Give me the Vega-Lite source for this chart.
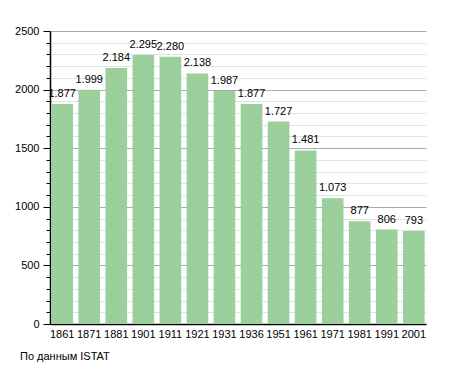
{
  "$schema": "https://vega.github.io/schema/vega-lite/v6.json",
  "width": 376,
  "height": 293,
  "autosize": "none",
  "padding": {"left": 50, "top": 31, "right": 29, "bottom": 49},
  "background": "white",
  "config": {
    "font": "Liberation Sans",
    "view": {"stroke": null},
    "locale": {"number": {"decimal": ",", "thousands": ".", "grouping": [3], "currency": ["", ""]}}
  },
  "title": {
    "text": "По данным  ISTAT",
    "orient": "bottom",
    "anchor": "start",
    "frame": "group",
    "fontSize": 11,
    "fontWeight": "normal",
    "color": "black",
    "dx": -30,
    "offset": 12
  },
  "data": {
    "values": [
      {"year": "1861", "pop": 1877},
      {"year": "1871", "pop": 1999},
      {"year": "1881", "pop": 2184},
      {"year": "1901", "pop": 2295},
      {"year": "1911", "pop": 2280},
      {"year": "1921", "pop": 2138},
      {"year": "1931", "pop": 1987},
      {"year": "1936", "pop": 1877},
      {"year": "1951", "pop": 1727},
      {"year": "1961", "pop": 1481},
      {"year": "1971", "pop": 1073},
      {"year": "1981", "pop": 877},
      {"year": "1991", "pop": 806},
      {"year": "2001", "pop": 793}
    ]
  },
  "encoding": {
    "x": {
      "field": "year",
      "type": "ordinal",
      "sort": null,
      "scale": {"paddingInner": 0.2, "paddingOuter": 0.05},
      "axis": {
        "title": null,
        "labelAngle": 0,
        "labelFontSize": 11,
        "labelColor": "black",
        "ticks": false,
        "labelPadding": 4,
        "domainColor": "black",
        "domainWidth": 1.5
      }
    },
    "y": {
      "field": "pop",
      "type": "quantitative",
      "scale": {"domain": [0, 2500], "nice": false},
      "axis": {
        "title": null,
        "values": [0,100,200,300,400,500,600,700,800,900,1000,1100,1200,1300,1400,1500,1600,1700,1800,1900,2000,2100,2200,2300,2400,2500],
        "labelExpr": "datum.value % 500 === 0 ? datum.value : ''",
        "labelFontSize": 11,
        "labelColor": "black",
        "labelPadding": 4,
        "domainColor": "black",
        "domainWidth": 1.5,
        "tickColor": "black",
        "tickSize": {"condition": {"test": "datum.value % 500 === 0", "value": 7}, "value": 4},
        "gridColor": {"condition": {"test": "datum.value % 500 === 0", "value": "#aaaaaa"}, "value": "#e2e2e2"},
        "gridWidth": 1
      }
    }
  },
  "layer": [
    {"mark": {"type": "bar", "color": "#9bcf9b"}},
    {
      "mark": {"type": "text", "baseline": "bottom", "dy": -5, "fontSize": 11, "color": "black"},
      "encoding": {"text": {"field": "pop", "type": "quantitative", "format": ",d"}}
    }
  ]
}
